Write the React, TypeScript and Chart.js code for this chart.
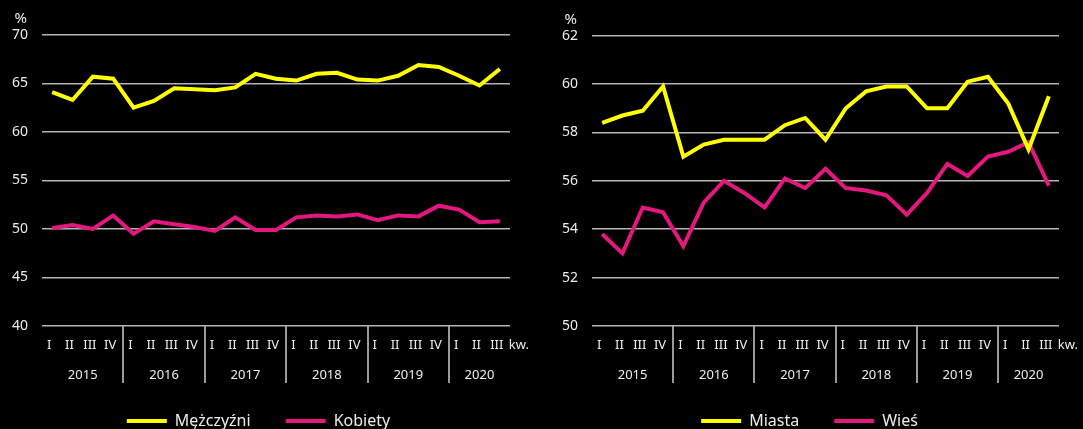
import React, { useEffect, useRef } from "react";
import { Chart, registerables } from "chart.js";

Chart.register(...registerables);

// ---------- data ----------
const quarterLabels = [
  "I", "II", "III", "IV",
  "I", "II", "III", "IV",
  "I", "II", "III", "IV",
  "I", "II", "III", "IV",
  "I", "II", "III", "IV",
  "I", "II", "III",
];
const yearLabels = ["2015", "2016", "2017", "2018", "2019", "2020"];
const yearCenters = [1.5, 5.5, 9.5, 13.5, 17.5, 21];

const men = [64.1, 63.3, 65.7, 65.5, 62.5, 63.2, 64.5, 64.4, 64.3, 64.6, 66.0, 65.5, 65.3, 66.0, 66.1, 65.4, 65.3, 65.8, 66.9, 66.7, 65.8, 64.8, 66.5];
const women = [50.1, 50.4, 50.0, 51.4, 49.5, 50.8, 50.5, 50.2, 49.8, 51.2, 49.9, 49.9, 51.2, 51.4, 51.3, 51.5, 50.9, 51.4, 51.3, 52.4, 52.0, 50.7, 50.8];
const city = [58.4, 58.7, 58.9, 59.9, 57.0, 57.5, 57.7, 57.7, 57.7, 58.3, 58.6, 57.7, 59.0, 59.7, 59.9, 59.9, 59.0, 59.0, 60.1, 60.3, 59.2, 57.3, 59.5];
const rural = [53.8, 53.0, 54.9, 54.7, 53.3, 55.1, 56.0, 55.5, 54.9, 56.1, 55.7, 56.5, 55.7, 55.6, 55.4, 54.6, 55.5, 56.7, 56.2, 57.0, 57.2, 57.6, 55.8];

const YELLOW = "#ffff00";
const PINK = "#e2187e";
const TEXT = "#ececec";
const GRID = "#b4b4b4";
const SEP = "#9a9a9a";
const FONT = '"Noto Sans", sans-serif';

type Series = { name: string; data: number[]; color: string };

type PanelProps = {
  left: number;
  width: number;
  height: number;
  yMin: number;
  yMax: number;
  yStep: number;
  topPad: number;
  axisWidth: number;
  padRight: number;
  series: Series[];
};

function Panel(p: PanelProps) {
  const ref = useRef<HTMLCanvasElement>(null);
  useEffect(() => {
    const annot = {
      id: "annot",
      afterDraw(chart: any) {
        const { ctx, chartArea } = chart;
        const xs = chart.scales.x;
        const ys = chart.scales.y;
        ctx.save();
        ctx.fillStyle = TEXT;
        ctx.font = `15px ${FONT}`;
        ctx.textAlign = "right";
        ctx.textBaseline = "middle";
        ctx.fillText("%", chartArea.left - 15, ys.top - 16);
        ctx.font = `13px ${FONT}`;
        ctx.textAlign = "left";
        ctx.fillText("kw.", xs.getPixelForValue(quarterLabels.length - 1) + 9, xs.top + 19);
        ctx.textAlign = "center";
        yearLabels.forEach((yl, i) => {
          ctx.fillText(yl, xs.getPixelForValue(yearCenters[i]), xs.top + 49);
        });
        ctx.restore();
      },
    };
    const chart = new Chart(ref.current as HTMLCanvasElement, {
      type: "line",
      data: {
        labels: quarterLabels,
        datasets: p.series.map((s) => ({
          label: s.name,
          data: s.data,
          borderColor: s.color,
          backgroundColor: s.color,
          borderWidth: 4,
          pointRadius: 0,
          pointHoverRadius: 0,
          tension: 0,
          xAxisID: "x",
          yAxisID: "y",
        })),
      },
      options: {
        responsive: false,
        animation: false,
        devicePixelRatio: 1,
        events: [],
        layout: { padding: { top: p.topPad, right: p.padRight, bottom: 1, left: 0 } },
        plugins: {
          tooltip: { enabled: false },
          legend: {
            position: "bottom",
            align: "center",
            labels: {
              color: TEXT,
              font: { family: FONT, size: 16 },
              boxWidth: 40,
              boxHeight: 4,
              padding: 35,
              generateLabels: (chart: any) =>
                (Chart.defaults.plugins.legend.labels.generateLabels as any)(chart).map((l: any) => ({
                  ...l,
                  lineWidth: 0,
                })),
            },
          },
        },
        scales: {
          x: {
            type: "category",
            position: "bottom",
            offset: true,
            border: { display: false },
            grid: {
              offset: true,
              drawOnChartArea: false,
              drawTicks: true,
              tickLength: 57,
              lineWidth: 2,
              color: (ctx: any) =>
                ctx.index % 4 === 0 && ctx.index > 0 && ctx.index < quarterLabels.length ? SEP : "rgba(0,0,0,0)",
            },
            ticks: {
              color: TEXT,
              font: { family: FONT, size: 13 },
              autoSkip: false,
              maxRotation: 0,
              minRotation: 0,
              padding: -46,
              labelOffset: -3,
            },
            afterFit: (s: any) => {
              s.height = 52;
            },
          },
          y: {
            type: "linear",
            min: p.yMin,
            max: p.yMax,
            border: { display: false },
            grid: { color: GRID, lineWidth: 1.5, drawTicks: false },
            ticks: {
              stepSize: p.yStep,
              color: TEXT,
              font: { family: FONT, size: 14 },
              padding: 14,
            },
            afterFit: (s: any) => {
              s.width = p.axisWidth;
            },
          },
        },
      } as any,
      plugins: [annot],
    });
    return () => chart.destroy();
  }, []);
  return (
    <canvas
      ref={ref}
      width={p.width}
      height={p.height}
      style={{ position: "absolute", left: p.left, top: 0, width: p.width, height: p.height }}
    />
  );
}

export default function App() {
  return (
    <div
      style={{
        position: "fixed",
        left: 0,
        top: 0,
        width: 1083,
        height: 429,
        background: "#000",
        overflow: "hidden",
      }}
    >
      <Panel
        left={7}
        width={534}
        height={440}
        yMin={40}
        yMax={70}
        yStep={5}
        topPad={35}
        axisWidth={35}
        padRight={31}
        series={[
          { name: "Mężczyźni", data: men, color: YELLOW },
          { name: "Kobiety", data: women, color: PINK },
        ]}
      />
      <Panel
        left={560}
        width={523}
        height={440}
        yMin={50}
        yMax={62}
        yStep={2}
        topPad={35.7}
        axisWidth={32}
        padRight={24}
        series={[
          { name: "Miasta", data: city, color: YELLOW },
          { name: "Wieś", data: rural, color: PINK },
        ]}
      />
    </div>
  );
}
